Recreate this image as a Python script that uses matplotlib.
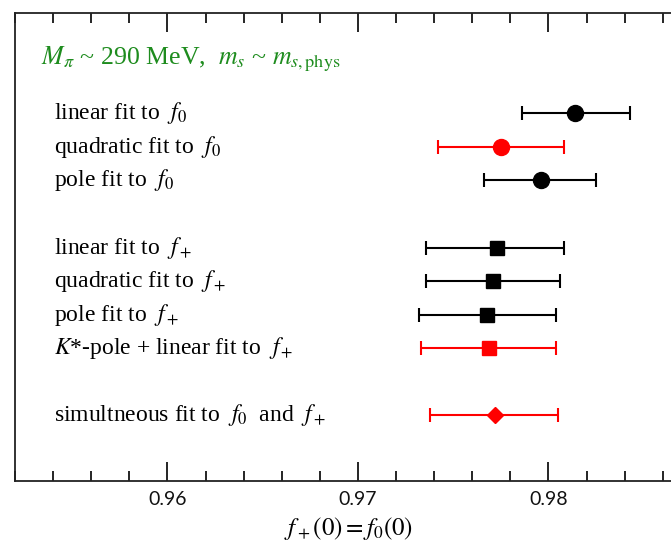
import matplotlib
matplotlib.use("Agg")
import matplotlib.pyplot as plt
from matplotlib.ticker import MultipleLocator, FormatStrFormatter

plt.rcParams["mathtext.fontset"] = "stix"
plt.rcParams["font.family"] = ["Liberation Serif", "DejaVu Serif"]

# Fit results for f+(0) = f0(0): central value and lower/upper errors
labels = [
    r"linear fit to  $f_0$",
    r"quadratic fit to  $f_0$",
    r"pole fit to  $f_0$",
    r"linear fit to  $f_+$",
    r"quadratic fit to  $f_+$",
    r"pole fit to  $f_+$",
    r"$K$*-pole + linear fit to  $f_+$",
    r"simultneous fit to  $f_0$  and  $f_+$",
]
rows = [0, 1, 2, 4, 5, 6, 7, 9]
values = [0.9814, 0.9775, 0.9796, 0.9773, 0.9771, 0.9768, 0.9769, 0.9772]
err_lo = [0.0028, 0.0033, 0.0030, 0.0037, 0.0035, 0.0036, 0.0036, 0.0034]
err_hi = [0.0029, 0.0033, 0.0029, 0.0035, 0.0035, 0.0036, 0.0035, 0.0033]
colors = ["black", "red", "black", "black", "black", "black", "red", "red"]
markers = ["o", "o", "o", "s", "s", "s", "s", "D"]
msizes = [11.5, 11.5, 11.5, 9.4, 9.4, 9.4, 9.4, 8.6]

title = r"$M_\pi$ ~ 290 MeV,  $m_s$ ~ $m_{s,\mathrm{phys}}$"
xlabel = r"$f_+(0) = f_0(0)$"
tick_values = [0.96, 0.97, 0.98]

W, H = 671, 544
fig = plt.figure(figsize=(W / 100, H / 100), dpi=100)
x_left, x_right = 0.952, 0.990
px_left = 15
px_per_unit = 19050
px_right = px_left + (x_right - x_left) * px_per_unit
ax = fig.add_axes([px_left / W, (H - 481) / H, (px_right - px_left) / W, (481 - 13) / H])

for r, v, lo, hi, c, m, s in zip(rows, values, err_lo, err_hi, colors, markers, msizes):
    ax.errorbar(v, r, xerr=[[lo], [hi]], fmt=m, color=c, ecolor=c, mec=c, mfc=c,
                markersize=s, elinewidth=1.5, capsize=5.2, capthick=1.5)

label_x = 0.95407
for r, t in zip(rows, labels):
    ax.text(label_x, r, t, fontsize=17, va="center", ha="left", color="black")

ax.text(0.95338, -1.6, title, fontsize=18.6, va="center", ha="left", color="#1e8c1e")

ax.set_xlim(x_left, x_right)
ax.set_ylim(10.95, -2.98)
ax.set_yticks([])
ax.set_xticks(tick_values)
ax.xaxis.set_major_formatter(FormatStrFormatter("%.2f"))
ax.xaxis.set_minor_locator(MultipleLocator(0.002))
ax.tick_params(axis="x", which="both", direction="in", top=True, bottom=True, width=1.2)
ax.tick_params(axis="x", which="major", length=14, labelsize=14, pad=7)
ax.tick_params(axis="x", which="minor", length=7)
for lab in ax.get_xticklabels():
    lab.set_family(["Lato", "DejaVu Sans"])
    lab.set_color("#111111")
for sp in ax.spines.values():
    sp.set_linewidth(1.3)
    sp.set_color("#222222")

ax.set_xlabel(xlabel, fontsize=18)
ax.xaxis.set_label_coords((349 - px_left) / (px_right - px_left), -(528 - 481) / (481 - 13),
                          transform=ax.transAxes)
ax.xaxis.label.set_va("center")

fig.savefig("out.png", dpi=100)
